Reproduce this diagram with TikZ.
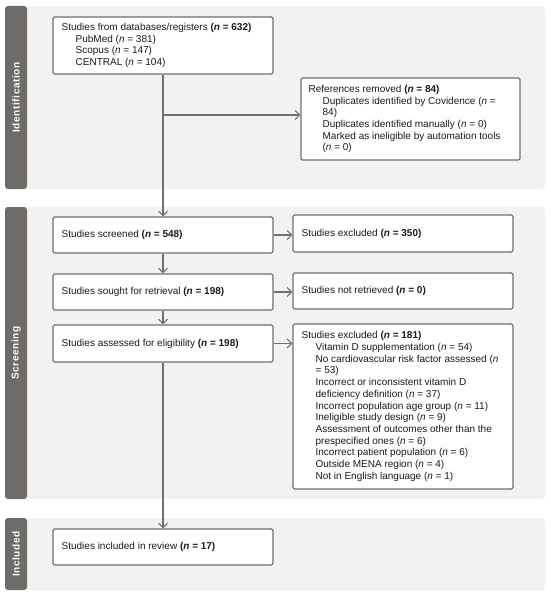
\documentclass[tikz,border=0pt]{standalone}
\usepackage{fontspec}
\setmainfont{Liberation Sans}
\usetikzlibrary{arrows.meta}
\definecolor{panelbg}{HTML}{F2F2F0}
\definecolor{tabcol}{HTML}{6F6B69}
\definecolor{linecol}{HTML}{707070}
\definecolor{txtcol}{HTML}{1A1A1A}
\newcommand{\nn}[1]{{\bfseries(\textit{n} = #1)}}
\newcommand{\ind}{\hspace*{14pt}}
\tikzset{
  box/.style={draw=linecol, line width=1.1pt, fill=white, rounded corners=1.5pt, inner sep=0pt},
  txt/.style={anchor=west, align=left, inner sep=0pt, text=txtcol, font=\fontsize{10}{11.7}\selectfont},
  conn/.style={draw=linecol, line width=1.1pt},
  arr/.style={conn, -{Straight Barb[length=4.5pt,width=9pt,line width=1.1pt]}},
  tablbl/.style={rotate=90, text=white, inner sep=0pt, font=\fontsize{10}{12}\selectfont\bfseries\addfontfeature{LetterSpace=6}}
}
\begin{document}
\begin{tikzpicture}[x=1pt,y=-1pt]
\useasboundingbox (0,0) rectangle (550,594);
% panels
\fill[panelbg, rounded corners=3pt] (5,6) rectangle (545,189);
\fill[panelbg, rounded corners=3pt] (5,207) rectangle (545,499);
\fill[panelbg, rounded corners=3pt] (5,518) rectangle (545,590);
\fill[tabcol, rounded corners=3pt] (5,6) rectangle (27,189);
\fill[tabcol, rounded corners=3pt] (5,207) rectangle (27,499);
\fill[tabcol, rounded corners=3pt] (5,518) rectangle (27,590);
\node[tablbl] (tid) at (16,97.5) {Identification};
\node[tablbl] (tsc) at (16,353) {Screening};
\node[tablbl] (tin) at (16,554) {Included};
% boxes
\node[box, minimum width=220pt, minimum height=57pt] (db) at (163,45.5) {};
\node[txt] (dbt) at ([xshift=9pt]db.west) {Studies from databases/registers \nn{632}\\
\ind PubMed (\textit{n} = 381)\\
\ind Scopus (\textit{n} = 147)\\
\ind CENTRAL (\textit{n} = 104)};
\node[box, minimum width=219pt, minimum height=82pt] (rem) at (410.5,119) {};
\node[txt] (remt) at ([xshift=8pt]rem.west) {References removed \nn{84}\\
\ind Duplicates identified by Covidence (\textit{n} =\\
\ind 84)\\
\ind Duplicates identified manually (\textit{n} = 0)\\
\ind Marked as ineligible by automation tools\\
\ind (\textit{n} = 0)};
\node[box, minimum width=220pt, minimum height=36pt] (scr) at (163,235) {};
\node[txt] (scrt) at ([xshift=9pt]scr.west) {Studies screened \nn{548}};
\node[box, minimum width=220pt, minimum height=37pt] (ex1) at (403,233.5) {};
\node[txt] (ex1t) at ([xshift=9pt]ex1.west) {Studies excluded \nn{350}};
\node[box, minimum width=220pt, minimum height=36pt] (sou) at (163,292) {};
\node[txt] (sout) at ([xshift=9pt]sou.west) {Studies sought for retrieval \nn{198}};
\node[box, minimum width=220pt, minimum height=36pt] (nr) at (403,291) {};
\node[txt] (nrt) at ([xshift=9pt]nr.west) {Studies not retrieved \nn{0}};
\node[box, minimum width=220pt, minimum height=37pt] (ass) at (163,343.5) {};
\node[txt] (asst) at ([xshift=9pt]ass.west) {Studies assessed for eligibility \nn{198}};
\node[box, minimum width=220pt, minimum height=165pt] (ex2) at (403,406.5) {};
\node[txt] (ex2t) at ([xshift=9pt]ex2.west) {Studies excluded \nn{181}\\
\ind Vitamin D supplementation (\textit{n} = 54)\\
\ind No cardiovascular risk factor assessed (\textit{n}\\
\ind = 53)\\
\ind Incorrect or inconsistent vitamin D\\
\ind deficiency definition (\textit{n} = 37)\\
\ind Incorrect population age group (\textit{n} = 11)\\
\ind Ineligible study design (\textit{n} = 9)\\
\ind Assessment of outcomes other than the\\
\ind prespecified ones (\textit{n} = 6)\\
\ind Incorrect patient population (\textit{n} = 6)\\
\ind Outside MENA region (\textit{n} = 4)\\
\ind Not in English language (\textit{n} = 1)};
\node[box, minimum width=220pt, minimum height=36pt] (inc) at (163,547) {};
\node[txt] (inct) at ([xshift=9pt]inc.west) {Studies included in review \nn{17}};
% connectors
\coordinate (br) at (163,115);
\draw[arr] (db.south) -- (scr.north);
\draw[arr] (br) -- (br -| rem.west);
\draw[arr] (scr.south) -- (sou.north);
\draw[arr] (sou.south) -- (ass.north);
\draw[arr] (ass.south) -- (inc.north);
\draw[arr] (scr.east) -- (scr.east -| ex1.west);
\draw[arr] (sou.east) -- (sou.east -| nr.west);
\draw[arr] (ass.east) -- (ass.east -| ex2.west);
\end{tikzpicture}
\end{document}
